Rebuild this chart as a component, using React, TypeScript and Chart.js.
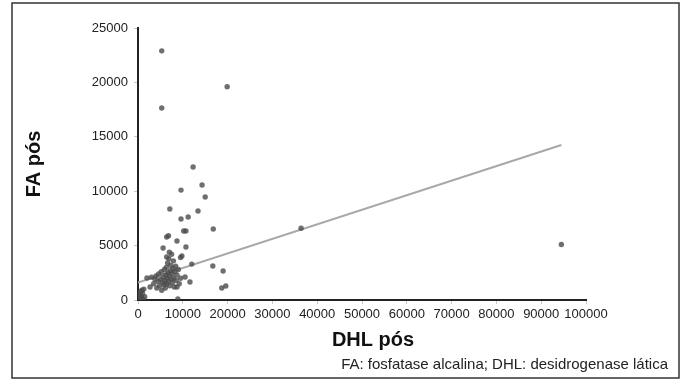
import React, { useEffect, useRef } from "react";
import { Chart, registerables } from "chart.js";

Chart.register(...registerables);

// DHL pós (x) and FA pós (y) for each patient
const dhlPos: number[] = [
  300, 500, 800, 1000, 1200, 600, 1500, 200, 900, 1300, 400, 700,
  2000, 2700, 3000, 3500, 3800, 4000, 4200, 4500, 4600, 4800, 5000, 5200,
  5300, 5500, 5600, 5800, 5900, 6000, 6100, 6200, 6300, 6400, 6500, 6600,
  6700, 6800, 6900, 7000, 7100, 7200, 7300, 7400, 7500, 7600, 7700, 7800,
  7900, 8000, 8100, 8200, 8400, 8500, 8700, 8700, 8900, 9000, 9200, 9500,
  6400, 7000, 10500, 11600, 12000, 16700, 19000, 19600, 18700, 9800, 9500, 10700,
  5600, 8700, 6400, 6800, 10200, 10700, 16800, 9600, 11200, 13400, 7100, 15000,
  9600, 14300, 12300, 5300, 5300, 19900, 36400, 94500,
];
const faPos: number[] = [
  100, 400, 200, 600, 50, 800, 300, 500, 900, 1000, 0, 300,
  2020, 1200, 2100, 1500, 1900, 2200, 1100, 1700, 2400, 1300, 1900, 2600,
  900, 1600, 2100, 1400, 2800, 1800, 1100, 2300, 3000, 1500, 2000, 3400,
  2500, 1700, 3800, 2200, 1300, 2700, 3200, 1900, 4200, 2400, 1600, 2900,
  3600, 2000, 1200, 2600, 3100, 1800, 2300, 1190, 90, 2800, 1500, 2000,
  3950, 4400, 2110, 1650, 3300, 3120, 2670, 1290, 1100, 4040, 3900, 4870,
  4780, 5420, 5790, 5900, 6340, 6340, 6520, 7440, 7630, 8180, 8360, 9470,
  10100, 10570, 12220, 17650, 22900, 19600, 6600, 5100,
];

// linear trend line end points
const trendX: number[] = [0, 94500];
const trendY: number[] = [1600, 14250];

const xTitle = "DHL pós";
const yTitle = "FA pós";
const footnote = "FA: fosfatase alcalina; DHL: desidrogenase lática";

const FONT = "'Liberation Sans', Arial, Helvetica, sans-serif";

export default function App() {
  const ref = useRef<HTMLCanvasElement | null>(null);

  useEffect(() => {
    if (!ref.current) return;
    const framePlugin = {
      id: "frameAndNote",
      afterDraw(chart: any) {
        const ctx = chart.ctx;
        ctx.save();
        ctx.strokeStyle = "#333";
        ctx.lineWidth = 1.5;
        ctx.strokeRect(12, 3, 667, 375);
        ctx.fillStyle = "#111";
        ctx.font = `bold 20px ${FONT}`;
        ctx.textAlign = "center";
        ctx.textBaseline = "middle";
        ctx.fillText(xTitle, 373, 340);
        ctx.fillStyle = "#222";
        ctx.font = `15px ${FONT}`;
        ctx.textAlign = "right";
        ctx.fillText(footnote, 668, 365);
        ctx.restore();
      },
    };
    const plain = (v: any) => String(v);
    const chart = new Chart(ref.current, {
      type: "scatter",
      data: {
        datasets: [
          {
            label: "pontos",
            data: dhlPos.map((x, i) => ({ x, y: faPos[i] })),
            backgroundColor: "rgba(75,75,75,0.8)",
            borderWidth: 0,
            pointRadius: 2.7,
            order: 1,
          },
          {
            label: "tendência",
            type: "line",
            data: trendX.map((x, i) => ({ x, y: trendY[i] })),
            borderColor: "#a8a8a8",
            borderWidth: 2,
            pointRadius: 0,
            fill: false,
            order: 2,
          } as any,
        ],
      },
      options: {
        responsive: false,
        animation: false,
        layout: { padding: { left: 22, right: 99, top: 28, bottom: 30 } },
        plugins: {
          legend: { display: false },
          tooltip: { enabled: false },
        },
        scales: {
          x: {
            type: "linear",
            min: 0,
            max: 100000,
            afterFit: (s: any) => {
              s.height = 52;
            },
            border: { color: "#222", width: 2 },
            grid: {
              display: true,
              drawOnChartArea: false,
              drawTicks: true,
              tickLength: 4,
              color: "#c8c8c8",
            },
            ticks: {
              stepSize: 10000,
              autoSkip: false,
              maxRotation: 0,
              padding: 3,
              color: "#222",
              font: { family: FONT, size: 13 },
              callback: plain,
            },
          },
          y: {
            type: "linear",
            min: 0,
            max: 25000,
            afterFit: (s: any) => {
              s.width = 116;
            },
            border: { color: "#222", width: 2 },
            grid: {
              display: true,
              drawOnChartArea: false,
              drawTicks: true,
              tickLength: 4,
              color: "#c8c8c8",
            },
            ticks: {
              stepSize: 5000,
              padding: 6,
              color: "#222",
              font: { family: FONT, size: 13 },
              callback: plain,
            },
            title: {
              display: true,
              text: yTitle,
              color: "#111",
              padding: 0,
              font: { family: FONT, size: 20, weight: "bold" },
            },
          },
        },
      },
      plugins: [framePlugin],
    });
    return () => chart.destroy();
  }, []);

  return (
    <div style={{ position: "fixed", left: 0, top: 0, width: 685, height: 382, background: "#fff" }}>
      <canvas ref={ref} width={685} height={382} style={{ width: 685, height: 382 }} />
    </div>
  );
}
